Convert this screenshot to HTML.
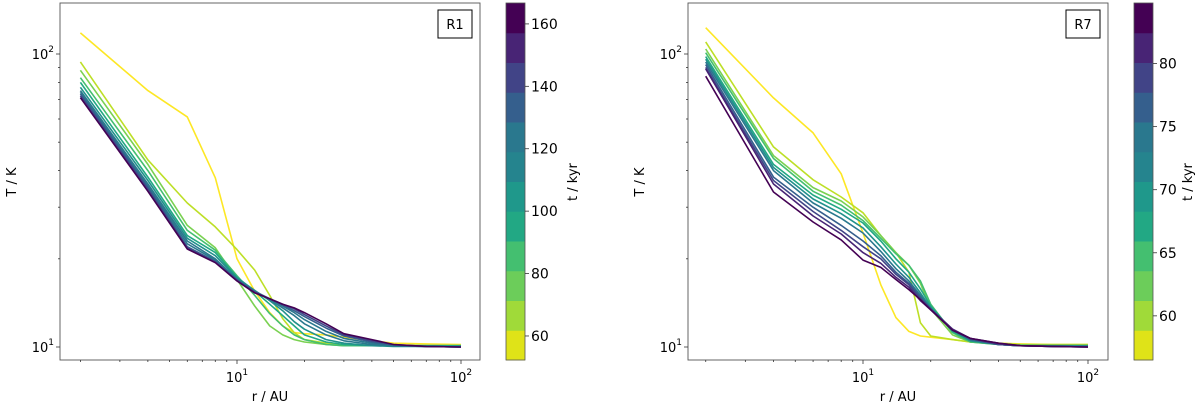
<!DOCTYPE html>
<html><head><meta charset="utf-8"><style>
body{margin:0;background:#fff;}
svg{display:block;font-family:"DejaVu Sans","Liberation Sans",sans-serif;}
</style></head><body>
<svg id="chart" width="1200" height="406" viewBox="0 0 1200 406"></svg>
<script>
const radii = [2,4,6,8,10,12,14,16,18,20,25,30,40,50,70,100];
const timesR1 = [55,65,75,85,95,105,115,125,135,145,160];
const tempsR1 = [
 [118,75,61,37.8,20,15.5,13.1,11.8,11.2,11.1,11.0,10.8,10.5,10.3,10.25,10.2],
 [94,43.5,31,25.7,21.5,18.3,15,12.5,11.2,10.6,10.3,10.2,10.15,10.1,10.1,10.1],
 [88,42,26,21.8,17,13.8,11.8,11,10.6,10.4,10.2,10.1,10.1,10.1,10.1,10.1],
 [83,40,25,21.4,17.5,15,13,11.8,11,10.6,10.2,10.1,10.1,10.1,10.1,10.1],
 [80,38,24,21,17.3,15.5,14,12.8,11.8,11,10.4,10.2,10.1,10.1,10.1,10.1],
 [77,37,23.5,20.5,17.2,15.6,14.4,13.3,12.2,11.5,10.6,10.3,10.1,10.05,10.05,10.05],
 [75,36,23,20,17,15.5,14.5,13.6,12.8,12,11,10.5,10.2,10.1,10.05,10.0],
 [74,35.5,22.5,19.8,17,15.5,14.6,13.8,13.1,12.4,11.3,10.7,10.3,10.1,10.05,10],
 [73,35,22,19.6,16.9,15.4,14.6,13.9,13.3,12.7,11.6,10.9,10.4,10.15,10.05,10],
 [72,34.5,21.8,19.5,16.9,15.4,14.6,14,13.5,12.9,11.8,11,10.5,10.2,10.05,10],
 [71,34,21.6,19.4,16.8,15.3,14.6,14,13.6,13.1,12,11.1,10.6,10.2,10.05,10]
];
const timesR7 = [57,60,63,65,68,71,73,76,79,81,84];
const tempsR7 = [
 [123,70.8,53.8,39,24.5,16.3,12.6,11.3,10.9,10.8,10.6,10.4,10.3,10.25,10.2,10.2],
 [110,48.2,37.2,32.5,28.7,24,21,18,12.1,10.9,10.6,10.4,10.3,10.2,10.2,10.2],
 [104,45,35,31.5,27.8,24,21,19,16.5,13.5,11,10.4,10.2,10.15,10.1,10.1],
 [101,44,34,30.5,27,23.5,20.8,19,16.8,14,11.2,10.4,10.2,10.1,10.1,10.1],
 [98,42,33,29.5,26.5,23,20,18,15.8,13.8,11.3,10.5,10.2,10.1,10.1,10.1],
 [96,41,32,28.5,25.5,22,19.2,17.3,15.3,13.6,11.4,10.5,10.2,10.1,10.1,10.1],
 [94,40,31,27.5,24.5,21.2,18.5,16.8,15,13.5,11.4,10.6,10.2,10.1,10.05,10.05],
 [92,38,30,26,23,20.5,18,16.5,14.8,13.5,11.5,10.6,10.2,10.1,10.05,10.0],
 [90,37,29,25,22,20,17.7,16.3,14.6,13.5,11.5,10.7,10.2,10.1,10.05,10],
 [89,36,28,24.3,21,19.3,17.3,16,14.4,13.4,11.5,10.7,10.3,10.1,10.05,10],
 [84,33.8,26.7,23.2,19.8,18.7,17,15.7,14.5,13.4,11.4,10.7,10.3,10.1,10.05,10]
];
const cbTicksR1 = [60,80,100,120,140,160];
const cbTicksR7 = [60,65,70,75,80];
const viridis = ["#fde725","#bddf26","#7ad151","#44bf70","#22a884","#21918c","#2a788e","#355f8d","#414487","#482475","#440154"];
const cbColors = ["#dfe318","#a0da39","#6ccd5a","#44bf70","#22a884","#1f988b","#25848e","#2a788e","#355f8d","#414487","#482475","#440154"];

const NS="http://www.w3.org/2000/svg";
const svg=document.getElementById('chart');
function mk(tag,attrs,parent){const e=document.createElementNS(NS,tag);for(const k in attrs)e.setAttribute(k,attrs[k]);(parent||svg).appendChild(e);return e;}

function panel(cfg){
  const g=mk('g',{});
  
  
  const x=r=>cfg.x10+cfg.dec*(Math.log10(r)-1);
  const y=T=>347-293*(Math.log10(T)-1);
  const tmin=cfg.tmin,tmax=cfg.tmax;
  const col=t=>{let i=Math.floor((t-tmin)/(tmax-tmin)*11);i=Math.max(0,Math.min(10,i));return viridis[i];};
  cfg.temps.forEach((row,k)=>{
    const d=row.map((T,i)=>(i?'L':'M')+x(radii[i]).toFixed(1)+','+y(T).toFixed(1)).join(' ');
    const p=mk('path',{d:d,fill:'none',stroke:col(cfg.times[k]),'stroke-width':1.6,'stroke-linejoin':'round'},g);
    
    
  });
  const fr=mk('rect',{x:cfg.L,y:3,width:cfg.R-cfg.L,height:357,fill:'none',stroke:'#555','stroke-width':0.9},g);
  
  
  for(let dec=1;dec<=100;dec*=10){for(let m=1;m<=9;m++){const r=dec*m;const xp=x(r);if(xp<cfg.L||xp>cfg.R)continue;
    const major=m===1;mk('line',{x1:xp,x2:xp,y1:360,y2:major?364:362,stroke:'#333','stroke-width':0.8},g);
    if(major){const t=mk('text',{x:xp,y:382,'text-anchor':'middle','font-size':13,fill:'#000'},g);
      
      t.innerHTML='10<tspan dy="-7" font-size="9">'+(Math.log10(r))+'</tspan>';}}}
  for(let dec=1;dec<=100;dec*=10){for(let m=1;m<=9;m++){const T=dec*m;const yp=y(T);if(yp<3||yp>360)continue;
    const major=m===1;mk('line',{x1:cfg.L,x2:cfg.L-(major?4:2),y1:yp,y2:yp,stroke:'#333','stroke-width':0.8},g);
    if(major){const t=mk('text',{x:cfg.L-6,y:yp+5,'text-anchor':'end','font-size':13,fill:'#000'},g);
      
      t.innerHTML='10<tspan dy="-7" font-size="9">'+(Math.log10(T))+'</tspan>';}}}
  const xl=mk('text',{x:(cfg.L+cfg.R)/2,y:401,'text-anchor':'middle','font-size':13},g);xl.textContent='r / AU';
  
  const yl=mk('text',{x:cfg.L-44,y:182,'text-anchor':'middle','font-size':13,transform:'rotate(-90 '+(cfg.L-44)+' 182)'},g);yl.textContent='T / K';
  
  const bx=mk('rect',{x:cfg.R-42,y:10,width:34,height:28,fill:'#fff',stroke:'#000','stroke-width':1},g);
  
  const bt=mk('text',{x:cfg.R-25,y:29,'text-anchor':'middle','font-size':13},g);bt.textContent=cfg.label;
  
  const cb=mk('g',{},g);
  const n=cbColors.length,h=357/n;
  for(let i=0;i<n;i++){const r=mk('rect',{x:cfg.cbx,y:360-(i+1)*h,width:19,height:h+0.5,fill:cbColors[i]},cb);
    }
  mk('rect',{x:cfg.cbx,y:3,width:19,height:357,fill:'none',stroke:'#555','stroke-width':0.8},cb);
  const cy=t=>360-(t-tmin)/(tmax-tmin)*357;
  cfg.cbTicks.forEach(t=>{const yp=cy(t);mk('line',{x1:cfg.cbx+19,x2:cfg.cbx+23,y1:yp,y2:yp,stroke:'#333','stroke-width':0.8},cb);
    const tt=mk('text',{x:cfg.cbx+25,y:yp+5,'font-size':14},cb);tt.textContent=t;
    });
  const lx=cfg.cbx+cfg.cbLabelOff;
  const cl=mk('text',{x:lx,y:182,'text-anchor':'middle','font-size':13,transform:'rotate(-90 '+lx+' 182)'},cb);cl.textContent='t / kyr';
  
}
panel({name:'panel-r1',L:60,R:480,x10:237,dec:224,temps:tempsR1,times:timesR1,tmin:52.3,tmax:166.7,cbx:506,cbTicks:cbTicksR1,label:'R1',cbLabelOff:71});
panel({name:'panel-r7',L:688,R:1108,x10:863,dec:225,temps:tempsR7,times:timesR7,tmin:56.5,tmax:84.8,cbx:1134,cbTicks:cbTicksR7,label:'R7',cbLabelOff:58});
</script>
</body></html>
